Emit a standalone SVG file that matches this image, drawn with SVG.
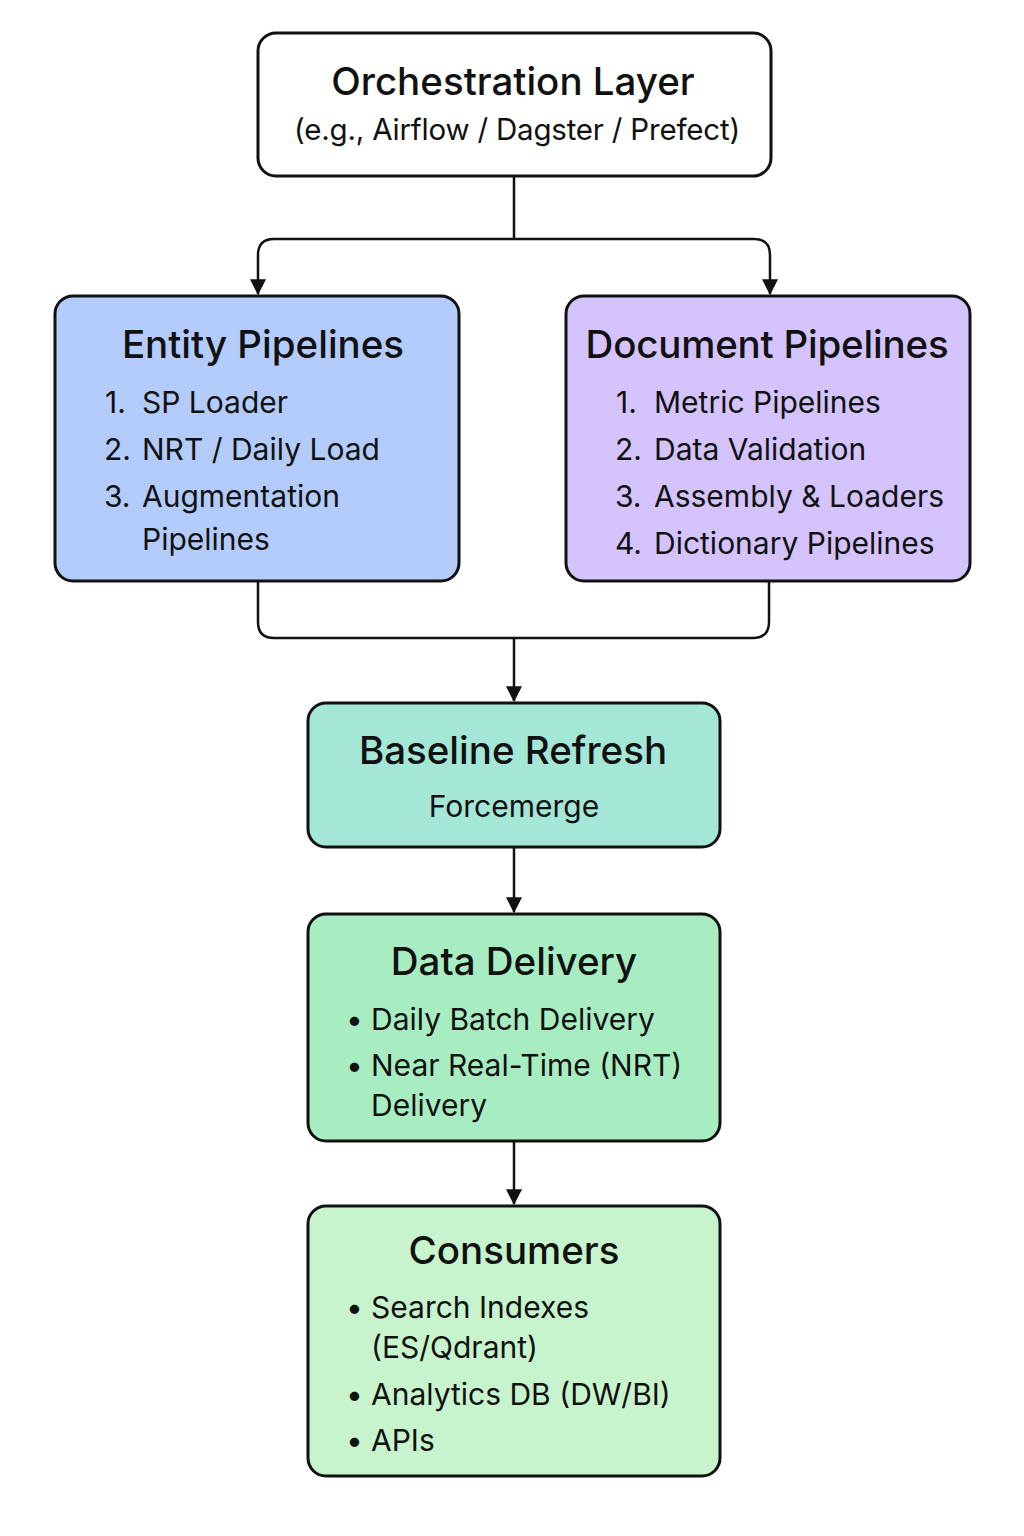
<svg xmlns="http://www.w3.org/2000/svg" width="1024" height="1536" viewBox="0 0 1024 1536">
<defs>
<marker id="arr" viewBox="0 0 14 14" refX="13" refY="7" markerWidth="16" markerHeight="16" markerUnits="userSpaceOnUse" orient="auto">
<path d="M0,0 L14,7 L0,14 Z" fill="#111"/>
</marker>
<style>
.box{stroke:#111;stroke-width:3}
.t{font-family:Inter,"Noto Sans","Liberation Sans",sans-serif;fill:#111}
.h{font-size:38.5px;font-weight:500;text-anchor:middle}
.b{font-size:30px;font-weight:400}
.s{font-size:29.5px;font-weight:400;text-anchor:middle;letter-spacing:-0.2px}
.c{stroke:#111;stroke-width:2.5;fill:none}
</style>
</defs>
<rect width="1024" height="1536" fill="#fff"/>
<g id="connectors">
<path class="c" d="M514,176 V239 M514,239 H274 Q258,239 258,255 V294" marker-end="url(#arr)"/>
<path class="c" d="M514,239 H754 Q770,239 770,255 V294" marker-end="url(#arr)"/>
<path class="c" d="M258,581 V622 Q258,638 274,638 H753 Q769,638 769,622 V581"/>
<path class="c" d="M514,638 V701" marker-end="url(#arr)"/>
<path class="c" d="M514,847 V912" marker-end="url(#arr)"/>
<path class="c" d="M514,1141 V1204" marker-end="url(#arr)"/>
</g>
<g id="orchestration">
<rect class="box" x="258" y="33" width="513" height="143" rx="18" fill="#fff"/>
<text class="t h" x="513" y="95">Orchestration Layer</text>
<text class="t s" x="517" y="140">(e.g., Airflow / Dagster / Prefect)</text>
</g>
<g id="entity">
<rect class="box" x="55" y="296" width="404" height="285" rx="18" fill="#b3ccfb"/>
<text class="t h" x="263" y="358">Entity Pipelines</text>
<text class="t b" x="105" y="413">1.</text><text class="t b" x="142" y="413">SP Loader</text>
<text class="t b" x="104" y="460">2.</text><text class="t b" x="142" y="460">NRT / Daily Load</text>
<text class="t b" x="104" y="507">3.</text><text class="t b" x="142" y="507">Augmentation</text>
<text class="t b" x="142" y="550">Pipelines</text>
</g>
<g id="document">
<rect class="box" x="566" y="296" width="404" height="285" rx="18" fill="#d4c3fc"/>
<text class="t h" x="767" y="358" letter-spacing="-0.2">Document Pipelines</text>
<text class="t b" x="616" y="413">1.</text><text class="t b" x="654" y="413">Metric Pipelines</text>
<text class="t b" x="615" y="460">2.</text><text class="t b" x="654" y="460">Data Validation</text>
<text class="t b" x="615" y="507">3.</text><text class="t b" x="654" y="507">Assembly &amp; Loaders</text>
<text class="t b" x="615" y="554">4.</text><text class="t b" x="654" y="554">Dictionary Pipelines</text>
</g>
<g id="baseline">
<rect class="box" x="308" y="703" width="412" height="144" rx="18" fill="#a4e7d6"/>
<text class="t h" x="513" y="764">Baseline Refresh</text>
<text class="t b" x="514" y="817" text-anchor="middle">Forcemerge</text>
</g>
<g id="delivery">
<rect class="box" x="308" y="914" width="412" height="227" rx="18" fill="#a8edc2"/>
<text class="t h" x="514" y="975">Data Delivery</text>
<text class="t b" x="346" y="1030">•</text><text class="t b" x="371" y="1030">Daily Batch Delivery</text>
<text class="t b" x="346" y="1076">•</text><text class="t b" x="371" y="1076">Near Real-Time (NRT)</text>
<text class="t b" x="371" y="1116">Delivery</text>
</g>
<g id="consumers">
<rect class="box" x="308" y="1206" width="412" height="270" rx="18" fill="#c8f4cd"/>
<text class="t h" x="514" y="1264">Consumers</text>
<text class="t b" x="346" y="1318">•</text><text class="t b" x="371" y="1318">Search Indexes</text>
<text class="t b" x="371" y="1358">(ES/Qdrant)</text>
<text class="t b" x="346" y="1405">•</text><text class="t b" x="371" y="1405">Analytics DB (DW/BI)</text>
<text class="t b" x="346" y="1451">•</text><text class="t b" x="371" y="1451">APIs</text>
</g>
</svg>
